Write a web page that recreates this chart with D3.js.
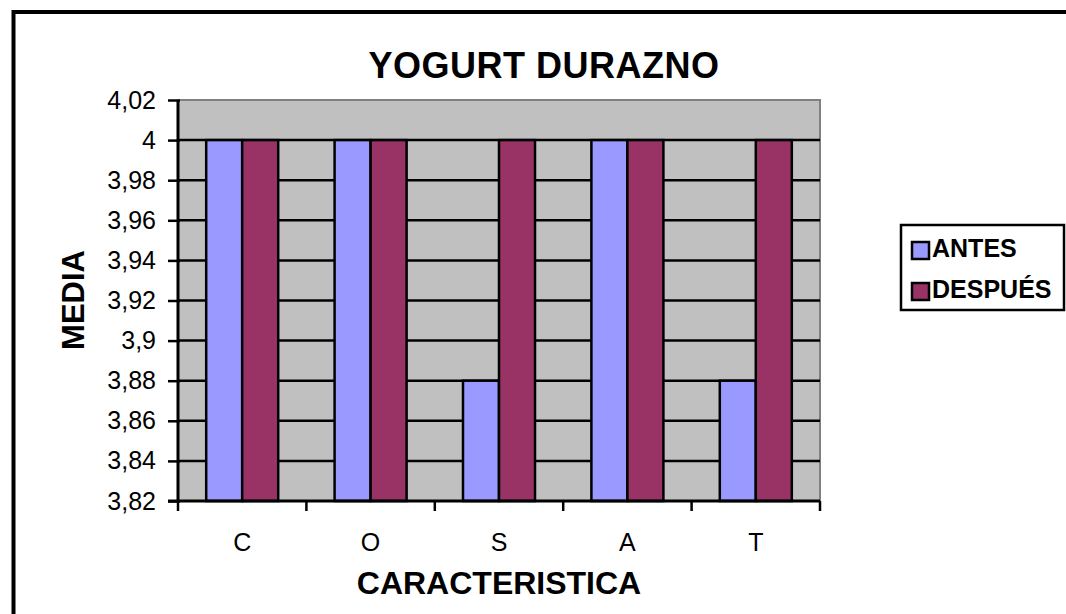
<!DOCTYPE html>
<html>
<head>
<meta charset="utf-8">
<script src="https://cdn.jsdelivr.net/npm/d3@7"></script>
<style>
  html, body { margin: 0; padding: 0; background: #fff; }
  svg { display: block; }
  text { font-family: "Liberation Sans", Arial, sans-serif; fill: #000; }
</style>
</head>
<body>
<svg id="chart" width="1066" height="614"></svg>
<script>
const categories = ["C", "O", "S", "A", "T"];
const seriesNames = ["ANTES", "DESPUÉS"];
const antes = [4, 4, 3.88, 4, 3.88];
const despues = [4, 4, 4, 4, 4];
const yTicks = [3.82, 3.84, 3.86, 3.88, 3.9, 3.92, 3.94, 3.96, 3.98, 4, 4.02];
const colors = ["#9999FF", "#993366"];
const title = "YOGURT DURAZNO";
const xTitle = "CARACTERISTICA";
const yTitle = "MEDIA";

const svg = d3.select("#chart");
const L = 178, R = 820, T = 100, B = 501;

// outer frame
svg.append("rect").attr("x", 13.5).attr("y", 12).attr("width", 1100).attr("height", 700)
  .attr("fill", "none").attr("stroke", "#000").attr("stroke-width", 4);

const x = d3.scaleBand().domain(categories).range([L, R]).paddingInner(0).paddingOuter(0);
const xs = d3.scaleBand().domain(seriesNames).range([0, x.bandwidth()]).paddingInner(0).paddingOuter(0.783);
const y = d3.scaleLinear().domain([3.82, 4.02]).range([B, T]);

// plot background
svg.append("rect").attr("x", L).attr("y", T).attr("width", R - L).attr("height", B - T)
  .attr("fill", "#C0C0C0");
// top/right border gray
svg.append("path").attr("d", `M${L},${T}H${R}V${B}`).attr("fill", "none")
  .attr("stroke", "#808080").attr("stroke-width", 2);

// gridlines
svg.append("g").selectAll("line").data(yTicks.slice(1, -1)).join("line")
  .attr("x1", L).attr("x2", R).attr("y1", d => y(d)).attr("y2", d => y(d))
  .attr("stroke", "#000").attr("stroke-width", 2.5);

// bars
const data = categories.map((c, i) => ({ c, vals: [antes[i], despues[i]] }));
const g = svg.append("g").selectAll("g").data(data).join("g")
  .attr("transform", d => `translate(${x(d.c)},0)`);
g.selectAll("rect").data(d => d.vals.map((v, j) => ({ v, s: seriesNames[j], j }))).join("rect")
  .attr("x", d => xs(d.s)).attr("width", xs.bandwidth())
  .attr("y", d => y(d.v)).attr("height", d => B - y(d.v))
  .attr("fill", d => colors[d.j]).attr("stroke", "#000").attr("stroke-width", 2.5);

// y axis
const loc = d3.formatLocale({ decimal: ",", thousands: ".", grouping: [3], currency: ["", ""] });
const fmt = loc.format("~f");
const yAxis = d3.axisLeft(y).tickValues(yTicks).tickSize(10).tickPadding(12)
  .tickFormat(d => fmt(+d.toFixed(2)));
const ya = svg.append("g").attr("transform", `translate(${L},0)`).call(yAxis);
ya.select(".domain").attr("stroke", "#000").attr("stroke-width", 3).attr("d", `M0,${T}V${B}`);
ya.selectAll(".tick line").attr("stroke", "#000").attr("stroke-width", 2.5).attr("x2", -10).attr("x1", 2);
ya.selectAll(".tick text").attr("font-size", 25).attr("font-family", "Liberation Sans, Arial, sans-serif").attr("fill", "#000");

// x axis
const xa = svg.append("g").attr("transform", `translate(0,${B})`);
xa.append("line").attr("x1", L - 10).attr("x2", R).attr("y1", 0).attr("y2", 0)
  .attr("stroke", "#000").attr("stroke-width", 3);
const bounds = categories.map(c => x(c)).concat([x(categories[categories.length - 1]) + x.bandwidth()]);
xa.selectAll("line.tk").data(bounds).join("line").attr("class", "tk")
  .attr("x1", d => d).attr("x2", d => d).attr("y1", 0).attr("y2", 10)
  .attr("stroke", "#000").attr("stroke-width", 2.5);
xa.selectAll("text").data(categories).join("text")
  .attr("x", d => x(d) + x.bandwidth() / 2).attr("y", 50)
  .attr("text-anchor", "middle").attr("font-size", 25).text(d => d);

// titles
svg.append("text").attr("x", 544).attr("y", 78).attr("text-anchor", "middle")
  .attr("font-size", 36).attr("font-weight", "bold").attr("letter-spacing", 0.5).text(title);
svg.append("text").attr("x", 499).attr("y", 594).attr("text-anchor", "middle")
  .attr("font-size", 32).attr("font-weight", "bold").text(xTitle);
svg.append("text").attr("transform", "translate(84,300) rotate(-90)").attr("text-anchor", "middle")
  .attr("font-size", 31).attr("font-weight", "bold").text(yTitle);

// legend
const lg = svg.append("g");
lg.append("rect").attr("x", 901).attr("y", 225).attr("width", 163).attr("height", 85)
  .attr("fill", "#fff").attr("stroke", "#000").attr("stroke-width", 2.5);
const items = lg.selectAll("g").data(seriesNames).join("g")
  .attr("transform", (d, i) => `translate(0,${i * 41})`);
items.append("rect").attr("x", 912).attr("y", 242).attr("width", 17).attr("height", 17)
  .attr("fill", (d, i) => colors[i]).attr("stroke", "#000").attr("stroke-width", 2.5);
items.append("text").attr("x", 932).attr("y", 257).attr("font-size", 25).attr("font-weight", "bold")
  .text(d => d);
</script>
</body>
</html>
